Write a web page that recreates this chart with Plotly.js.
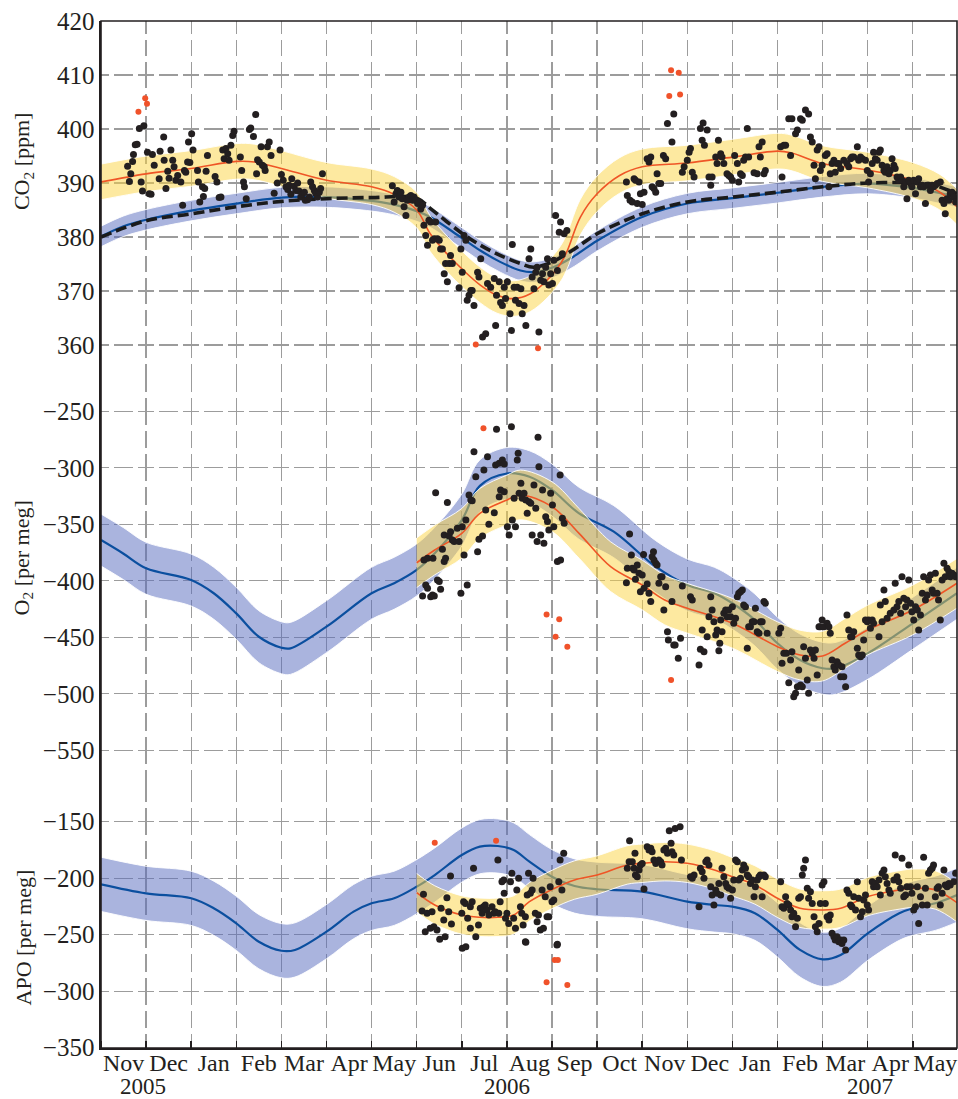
<!DOCTYPE html>
<html><head><meta charset="utf-8">
<script src="https://cdn.plot.ly/plotly-3.0.1.min.js"></script>
<style>html,body{margin:0;padding:0;background:#fff}#chart{width:958px;height:1099px}</style>
</head><body><div id="chart"></div>
<script>
// x unit: months since 1 Nov 2005 (each month an equal step, as in the source)
const monthLabels = ['Nov','Dec','Jan','Feb','Mar','Apr','May','Jun','Jul','Aug','Sep','Oct','Nov','Dec','Jan','Feb','Mar','Apr','May'];
const yearLabels = ['2005','2006','2007'];
const yearAt = [0.94, 9.0, 17.05];

// ---------- CO2 panel ----------
const co2BlueM = [0,0.5,1,2,3,4,5,6,6.5,7,7.3,7.97,8.41,8.85,9.3,9.59,10,10.5,11,12,13,14,15,16,17,18,18.5,18.98];
const co2BlueV = [380.1,382.0,383.2,384.9,386.2,387.3,387.4,386.7,386.0,384.8,383.7,380.0,377.5,375.4,373.8,373.5,374.3,376.5,379.3,383.7,386.2,387.2,388.2,389.3,389.9,389.1,388.3,387.4];
const co2BlueHW = 1.9;
const co2DashM = [0,1,2,3,4,5,6,7,7.3,7.97,8.41,8.85,9.3,9.59,10,10.5,11,12,13,14,15,16,17,18,18.5,18.98];
const co2DashV = [380.0,383.0,384.3,385.6,386.6,387.1,387.3,387.2,385.3,380.9,378.5,376.6,375.1,374.4,375.4,377.8,380.6,384.3,386.5,387.4,388.3,389.3,390.0,390.0,389.5,388.0];
const co2RedM = [0,1,2,3,3.4,4,5,6,6.5,7,7.3,7.67,8.04,8.41,8.78,9.15,9.52,9.89,10.2,10.34,10.63,11,11.5,12,13,14,15,15.3,16,17,18,18.6,18.98];
const co2RedV = [390.2,391.7,392.7,394.0,393.9,392.7,390.5,389.3,387.9,385.0,380.6,376.9,373.8,371.1,369.2,368.6,369.5,372.0,375.2,377.5,383.7,388.0,391.4,393.0,393.7,394.8,395.9,395.6,393.6,392.4,390.5,388.3,385.6];
const co2RedHW = 3.3;
const co2Points = [
[0.59,393.1],[0.63,390.3],[0.66,391.7],[0.70,394.0],[0.72,395.3],[0.76,397.1],[0.80,397.2],[0.85,400.1],[0.95,400.6],[0.89,390.2],[0.92,388.5],[1.03,395.7],[1.07,388.0],[1.11,387.9],[1.14,395.3],[1.18,393.3],[1.29,390.8],[1.31,395.9],[1.39,398.5],[1.40,394.2],[1.44,389.0],[1.48,392.2],[1.51,390.9],[1.55,396.1],[1.59,394.2],[1.62,393.0],[1.66,390.5],[1.70,391.4],[1.77,390.2],[1.81,385.9],[1.85,392.3],[1.88,392.0],[1.92,393.9],[1.94,397.6],[1.97,393.8],[2.01,399.1],[2.04,396.1],[2.14,392.3],[2.16,390.2],[2.19,386.5],[2.25,389.3],[2.27,387.5],[2.30,389.0],[2.33,392.2],[2.36,395.1],[2.53,391.2],[2.57,390.2],[2.62,387.3],[2.66,387.4],[2.70,396.1],[2.73,394.5],[2.77,396.4],[2.81,395.4],[2.84,394.2],[2.88,397.0],[2.92,398.8],[2.95,399.6],[3.09,394.8],[3.12,392.3],[3.16,390.2],[3.18,389.3],[3.22,387.1],[3.29,399.9],[3.32,400.2],[3.38,398.6],[3.43,402.7],[3.45,391.7],[3.47,394.3],[3.51,393.9],[3.55,396.7],[3.58,393.3],[3.62,393.0],[3.64,392.3],[3.69,396.7],[3.73,397.6],[3.77,395.1],[3.84,388.1],[3.91,390.0],[3.97,396.1],[4.00,391.6],[4.04,390.5],[4.10,389.3],[4.14,388.8],[4.17,389.6],[4.21,387.9],[4.23,390.8],[4.28,389.4],[4.32,388.6],[4.36,390.0],[4.39,388.5],[4.43,387.4],[4.47,388.0],[4.51,388.3],[4.53,386.8],[4.58,386.9],[4.62,387.4],[4.65,390.2],[4.69,389.3],[4.73,388.6],[4.76,388.1],[4.80,387.4],[4.84,388.3],[4.87,389.0],[4.91,391.7],
[6.46,389.5],[6.50,386.5],[6.54,388.0],[6.57,388.6],[6.61,387.4],[6.65,388.3],[6.68,387.1],[6.72,385.6],[6.76,384.0],[6.79,386.8],[6.83,387.4],[6.87,387.7],[6.91,386.8],[6.94,387.4],[6.98,386.8],[7.02,386.2],[7.05,386.5],[7.09,385.2],[7.13,385.9],[7.16,382.2],[7.20,380.3],[7.24,378.5],[7.27,383.1],[7.31,382.8],[7.35,379.4],[7.39,379.7],[7.42,382.8],[7.46,379.7],[7.50,379.4],[7.53,377.8],[7.57,377.8],[7.61,373.2],[7.64,375.1],[7.68,371.7],[7.72,375.1],[7.75,376.6],[7.79,375.1],[7.94,370.6],[7.98,377.8],[8.01,373.5],[8.05,380.3],[8.09,379.4],[8.12,368.3],[8.16,369.2],[8.20,370.1],[8.23,370.1],[8.27,367.3],[8.35,373.5],[8.38,372.6],[8.42,376.0],
[8.46,361.5],[8.53,362.1],[8.57,371.4],[8.64,370.7],[8.72,372.3],[8.75,363.6],[8.77,369.2],[8.83,371.7],[8.86,367.9],[8.90,367.3],[8.94,370.7],[8.97,368.6],[9.01,371.7],[9.07,365.8],[9.10,362.7],[9.12,378.6],[9.16,370.7],[9.19,368.3],[9.23,370.7],[9.27,367.7],[9.31,370.4],[9.34,365.8],[9.38,367.3],[9.42,363.6],[9.49,376.0],[9.53,377.8],[9.56,372.6],[9.60,370.4],[9.64,373.5],[9.67,374.4],[9.71,362.4],[9.75,372.0],[9.79,373.2],[9.82,371.7],[9.86,374.4],[9.90,376.0],[9.93,371.1],[9.97,373.2],[10.01,371.4],[10.04,375.7],[10.08,384.0],[10.12,373.8],[10.16,380.9],[10.19,382.8],[10.23,376.9],[10.27,380.6],[10.33,381.2],
[11.65,390.2],[11.67,387.7],[11.73,386.8],[11.78,386.5],[11.82,390.8],[11.85,390.5],[11.89,386.2],[11.93,390.2],[11.96,388.0],[12.00,386.0],[12.04,388.3],[12.11,394.5],[12.15,393.9],[12.19,394.8],[12.22,389.3],[12.26,389.0],[12.30,388.3],[12.33,391.7],[12.37,389.9],[12.41,389.9],[12.47,395.1],[12.52,394.5],[12.56,401.0],[12.66,397.6],[12.70,402.8],[12.89,392.0],[12.93,393.0],[13.00,394.2],[13.04,395.7],[13.07,396.4],[13.11,392.0],[13.15,391.1],[13.29,400.1],[13.33,397.9],[13.35,401.1],[13.38,397.0],[13.44,399.8],[13.48,391.1],[13.52,389.6],[13.55,391.1],[13.63,394.8],[13.66,393.6],[13.69,397.9],[13.74,395.4],[13.77,394.8],[13.81,393.6],[13.88,391.7],[13.92,391.4],[13.96,391.1],[14.00,390.5],[14.05,395.1],[14.11,393.6],[14.14,390.2],[14.18,391.7],[14.22,391.4],[14.25,394.2],[14.29,394.8],[14.33,400.1],[14.36,394.8],[14.48,391.9],[14.55,391.7],[14.59,396.7],[14.62,394.8],[14.66,397.6],[14.70,391.7],[14.73,392.3],
[15.07,396.7],[15.10,391.1],[15.14,397.0],[15.18,397.0],[15.25,401.9],[15.32,401.9],[15.29,395.1],[15.40,399.1],[15.44,399.8],[15.51,401.9],[15.55,401.6],[15.62,403.5],[15.69,402.8],[15.73,398.5],[15.77,397.6],[15.81,393.3],[15.84,390.8],[15.88,396.1],[15.92,396.7],[15.95,392.3],[15.99,393.3],[16.06,395.1],[16.10,395.4],[16.14,389.3],[16.17,391.7],[16.21,393.6],[16.25,394.2],[16.28,392.0],[16.32,393.6],[16.36,393.6],[16.40,392.7],[16.47,394.2],[16.54,393.6],[16.58,393.0],[16.62,394.5],[16.65,394.8],[16.69,394.8],[16.77,396.7],[16.80,394.2],[16.84,394.8],[16.88,394.5],[16.95,394.2],[16.99,392.3],[17.02,390.2],[17.06,391.7],[17.10,393.6],[17.13,395.7],[17.17,394.5],[17.21,394.2],[17.25,395.7],[17.28,396.1],[17.32,393.3],[17.36,392.3],[17.39,392.0],[17.43,393.0],[17.47,391.7],[17.50,392.3],[17.54,394.5],[17.58,393.3],[17.61,392.7],[17.65,391.1],[17.69,390.5],[17.73,391.1],[17.76,390.5],[17.80,389.3],[17.84,390.2],[17.87,387.1],[17.91,390.5],[17.95,389.9],[17.98,389.3],[18.02,390.5],[18.06,388.0],[18.10,390.2],[18.13,390.8],[18.17,389.3],[18.21,389.6],[18.24,389.3],[18.28,386.2],[18.32,389.6],[18.35,389.6],[18.39,388.6],[18.43,389.6],[18.46,389.3],[18.50,389.6],[18.54,389.9],[18.61,390.2],[18.65,386.8],[18.69,386.2],[18.72,384.3],[18.76,387.1],[18.80,386.8],[18.83,388.0],[18.87,388.3],[18.91,387.4],[18.95,386.5]
];
const co2Outliers = [[0.83,403.2],[0.98,405.7],[1.02,404.7],[8.31,360.1],[9.69,359.4],[12.64,410.9],[12.81,410.4],[12.60,406.1],[12.84,406.4]];

// ---------- O2 panel ----------
const o2BlueM = [0,0.5,1,2,2.5,3,3.5,4,4.2,5,6,6.5,7,7.4,8,8.4,9,9.5,10,10.6,11.37,12.3,13,13.6,14,14.5,15,15.5,16,16.3,17,18,18.98];
const o2BlueV = [-363.9,-376,-388.9,-399.3,-411,-428.8,-449.5,-459.2,-459.8,-440.6,-411,-402.2,-390.4,-375.7,-346.2,-316,-305,-307.9,-319.6,-340.3,-356.5,-387.5,-403.7,-411,-419.9,-434.7,-455.3,-470.1,-477.4,-477.4,-464.2,-437.6,-411];
const o2BlueHW = 23;
const o2RedM = [7,7.4,8,8.4,9,9.3,10,10.6,11.3,12,12.5,13,14,15,15.5,16,16.5,17,18,18.98];
const o2RedV = [-384,-372.7,-358,-340.3,-328.5,-324,-334.4,-358,-387.5,-403.7,-417,-424.3,-437.6,-458.3,-465.7,-466.6,-455.3,-443.5,-425.8,-402.2];
const o2RedHW = 22;
const o2Points = [
[7.13,-413.4],[7.16,-381.6],[7.20,-403.7],[7.24,-406.6],[7.24,-380.1],[7.31,-414.0],[7.35,-412.5],[7.36,-380.1],[7.39,-413.4],[7.42,-322.0],[7.46,-399.3],[7.50,-400.7],[7.53,-407.5],[7.57,-372.1],[7.61,-359.5],[7.61,-383.0],[7.64,-380.1],[7.68,-330.8],[7.72,-360.3],[7.75,-356.5],[7.79,-363.9],[7.83,-365.3],[7.90,-353.5],[7.94,-365.3],[7.98,-411.1],[8.01,-352.1],[8.05,-377.1],[8.09,-346.2],[8.12,-403.7],[8.16,-324.0],[8.20,-328.5],[8.23,-329.1],[8.27,-285.7],[8.31,-307.8],[8.35,-374.2],[8.38,-363.3],
[8.77,-265.9],[9.10,-263.6],[9.69,-273.0],[8.49,-301.9],[8.57,-290.1],[8.75,-297.5],[8.83,-296.0],[8.90,-293.1],[8.94,-296.6],[9.23,-293.1],[9.25,-287.2],[9.71,-299.0],[10.18,-306.3],[8.53,-337.3],[8.72,-339.7],[8.60,-350.0],[8.46,-360.3],[8.83,-325.5],[8.86,-319.6],[8.94,-321.1],[9.01,-352.1],[9.05,-359.5],[9.12,-346.2],[9.16,-327.0],[9.19,-352.1],[9.27,-322.6],[9.31,-313.7],[9.34,-327.0],[9.38,-322.6],[9.42,-328.5],[9.45,-340.3],[9.49,-330.0],[9.53,-331.4],[9.56,-359.5],[9.60,-315.2],[9.64,-335.8],[9.67,-365.3],[9.75,-359.5],[9.79,-319.6],[9.82,-366.8],[9.86,-343.2],[9.90,-347.6],[9.93,-355.0],[9.97,-322.6],[10.01,-332.9],[10.04,-352.1],[10.12,-383.0],[10.19,-381.6],[10.23,-344.7],[10.27,-349.1],
[11.72,-358.6],[11.67,-388.9],[11.65,-401.6],[11.76,-377.1],[11.78,-388.9],[11.82,-390.4],[11.85,-398.7],[11.89,-386.0],[11.93,-393.4],[11.96,-409.6],[12.00,-394.8],[12.04,-406.6],[12.03,-376.6],[12.11,-402.8],[12.15,-411.1],[12.19,-418.4],[12.22,-378.6],[12.25,-374.2],[12.26,-381.6],[12.30,-384.5],[12.33,-386.0],[12.37,-402.2],[12.41,-396.3],[12.44,-396.3],[12.48,-425.8],[12.52,-405.2],[12.56,-445.0],[12.58,-452.4],[12.66,-418.4],[12.70,-456.8],[12.73,-456.8],[12.80,-468.6],[12.85,-450.9],[12.89,-404.6],[13.07,-414.0],[13.11,-417.0],[13.26,-474.5],[13.29,-460.6],[13.33,-443.5],[13.37,-462.7],[13.44,-449.4],[13.48,-431.7],[13.52,-414.0],[13.55,-425.8],[13.59,-436.2],[13.63,-447.9],[13.66,-443.5],[13.70,-461.8],[13.72,-455.3],[13.74,-434.7],[13.77,-445.0],[13.81,-428.8],[13.85,-425.8],[13.88,-431.7],[13.92,-425.8],[13.96,-431.7],[14.00,-422.9],[14.03,-437.6],[14.07,-433.2],[14.11,-414.0],[14.14,-411.1],[14.18,-409.6],[14.22,-408.1],[14.25,-421.4],[14.29,-422.9],[14.33,-459.7],[14.36,-440.6],[14.40,-440.6],[14.44,-436.2],[14.48,-436.2],[14.51,-424.3],[14.55,-445.0],[14.59,-446.5],[14.62,-436.2],[14.66,-436.2],[14.70,-418.4],[14.73,-419.9],[14.77,-446.5],
[15.03,-446.5],[15.07,-442.0],[15.10,-473.0],[15.14,-464.2],[15.20,-464.2],[15.25,-490.1],[15.29,-470.1],[15.32,-462.7],[15.36,-502.5],[15.40,-499.6],[15.44,-493.7],[15.47,-478.9],[15.51,-492.2],[15.55,-493.7],[15.58,-458.3],[15.62,-468.6],[15.66,-487.8],[15.69,-499.6],[15.73,-461.2],[15.77,-464.2],[15.81,-468.6],[15.84,-461.2],[15.88,-483.3],[15.92,-440.6],[15.95,-440.6],[15.99,-434.7],[16.03,-440.6],[16.10,-437.6],[16.14,-440.6],[16.17,-446.5],[16.21,-470.1],[16.25,-476.0],[16.28,-478.9],[16.32,-471.6],[16.36,-474.5],[16.40,-484.8],[16.43,-476.0],[16.47,-484.8],[16.51,-493.7],[16.54,-430.2],[16.58,-443.5],[16.62,-449.4],[16.65,-449.4],[16.69,-445.0],[16.77,-459.7],[16.80,-465.6],[16.84,-467.1],[16.88,-465.6],[16.91,-452.4],[16.95,-434.7],[16.99,-436.2],[17.02,-434.7],[17.06,-442.0],[17.10,-434.7],[17.13,-437.6],[17.25,-449.4],[17.28,-421.4],[17.32,-436.2],[17.36,-408.1],[17.39,-418.4],[17.43,-433.2],[17.50,-428.8],[17.58,-425.8],[17.61,-402.2],[17.65,-422.9],[17.69,-418.4],[17.73,-428.8],[17.76,-396.3],[17.80,-415.5],[17.84,-422.9],[17.87,-417.0],[17.91,-399.3],[17.95,-419.9],[17.98,-427.3],[18.02,-434.7],[18.06,-422.9],[18.10,-425.8],[18.13,-443.5],[18.17,-430.2],[18.21,-411.1],[18.24,-396.3],[18.28,-417.0],[18.32,-412.5],[18.35,-399.3],[18.39,-394.8],[18.43,-408.1],[18.46,-411.1],[18.50,-393.4],[18.54,-411.1],[18.57,-417.0],[18.61,-434.7],[18.65,-399.3],[18.69,-384.5],[18.72,-396.3],[18.76,-388.9],[18.80,-391.9],[18.83,-396.3],[18.87,-393.4],[18.91,-394.8],[18.95,-396.3]
];
const o2Outliers = [[8.48,-265.0],[9.88,-429.7],[10.16,-434.1],[10.08,-449.4],[10.34,-458.3],[12.64,-487.8]];

// ---------- APO panel ----------
const apoBlueM = [0,1,2,2.5,3,3.5,4,4.3,5,5.6,6,6.5,7,7.4,8,8.4,8.8,9.15,9.5,10,10.5,11,12,13,13.6,14,14.5,15,15.5,16,16.4,17,17.7,18,18.5,18.98];
const apoBlueV = [-205.4,-213.4,-217.8,-226.6,-239.9,-256.2,-264.2,-263.5,-247.3,-229.6,-222.2,-217.8,-207.5,-197.2,-179.5,-172.1,-171.5,-175,-185.4,-198.7,-206.9,-209.8,-211.9,-220.8,-223.7,-225.2,-231,-245.8,-263.5,-271.8,-268,-248.8,-231,-226.6,-222.2,-214.9];
const apoBlueHW = 24;
const apoRedM = [7,7.4,8,8.4,8.8,9.15,9.5,10,10.5,11,11.67,12,12.5,13,13.6,14,14.5,15,15.5,16,16.4,17,17.7,18,18.5,18.98];
const apoRedV = [-212.8,-223.7,-232.6,-234.6,-234.6,-232.6,-220.8,-210,-201.6,-197.2,-188.3,-186.8,-185.4,-186.8,-192.7,-198.7,-206,-217.8,-226.6,-228.1,-226.6,-216.3,-210.4,-208.9,-210.4,-221.7];
const apoRedHW = 17;
const apoPoints = [
[7.15,-214.3],[7.12,-229.0],[7.23,-231.1],[7.34,-229.6],[7.19,-247.3],[7.30,-244.4],[7.38,-242.9],[7.45,-245.9],[7.51,-254.1],[7.63,-251.8],[7.54,-226.7],[7.67,-217.2],[7.60,-237.0],[7.71,-229.6],[7.77,-240.5],[7.75,-198.1],[8.00,-231.1],[8.04,-220.8],[8.08,-222.3],[8.13,-235.5],[8.19,-225.2],[8.23,-220.8],[8.19,-244.4],[8.26,-191.3],[8.31,-251.8],[8.37,-241.4],[8.41,-226.7],[8.45,-231.1],[8.48,-225.2],[8.52,-223.7],[8.56,-228.2],[8.60,-232.6],[8.67,-225.2],[8.71,-231.1],[8.74,-229.6],[8.80,-183.9],[8.82,-231.1],[8.85,-220.8],[8.89,-203.1],[8.93,-201.6],[8.94,-213.4],[8.97,-235.5],[9.00,-231.1],[9.04,-240.0],[9.08,-203.1],[9.11,-195.7],[9.15,-235.5],[9.19,-244.4],[9.22,-210.5],[9.26,-200.1],[9.30,-225.2],[9.33,-231.1],[9.36,-241.4],[9.41,-234.1],[9.41,-256.2],[9.45,-214.9],[9.48,-195.7],[9.52,-213.4],[9.56,-210.5],[9.58,-200.1],[9.63,-231.1],[9.67,-238.5],[9.70,-232.6],[9.74,-245.9],[9.78,-210.5],[9.81,-244.4],[9.85,-216.4],[9.89,-234.1],[9.93,-234.1],[9.96,-207.5],[10.00,-220.8],[10.04,-219.3],[10.11,-259.1],[10.15,-203.1],[10.18,-183.9],[10.22,-210.5],[10.26,-178.0],[8.01,-262.1],[8.09,-260.6],[9.42,-256.8],[10.12,-258.5],
[11.72,-166.8],[11.67,-191.3],[11.71,-185.4],[11.78,-185.4],[11.82,-191.3],[11.84,-178.0],[11.85,-197.2],[11.89,-198.7],[11.93,-192.7],[11.96,-188.3],[12.00,-186.9],[12.04,-209.6],[12.11,-172.1],[12.15,-175.1],[12.19,-173.6],[12.22,-176.5],[12.26,-183.9],[12.30,-186.9],[12.37,-183.9],[12.41,-185.4],[12.44,-188.3],[12.48,-175.1],[12.52,-173.6],[12.56,-178.0],[12.60,-157.9],[12.64,-169.1],[12.66,-176.5],[12.70,-179.5],[12.73,-155.9],[12.84,-154.4],[12.87,-183.9],[13.07,-198.7],[13.11,-200.1],[13.15,-197.2],[13.26,-225.2],[13.29,-191.3],[13.33,-194.2],[13.37,-200.1],[13.41,-185.4],[13.44,-183.9],[13.48,-188.3],[13.52,-207.5],[13.55,-214.9],[13.59,-223.7],[13.63,-210.5],[13.66,-213.4],[13.70,-204.6],[13.74,-214.9],[13.77,-191.3],[13.81,-198.7],[13.85,-204.6],[13.88,-207.5],[13.92,-209.0],[13.96,-217.8],[14.00,-210.5],[14.03,-201.6],[14.07,-183.9],[14.11,-185.4],[14.14,-201.6],[14.18,-200.1],[14.22,-192.7],[14.25,-188.3],[14.29,-191.3],[14.33,-197.2],[14.36,-198.7],[14.40,-204.6],[14.44,-201.6],[14.48,-216.4],[14.51,-207.5],[14.55,-201.6],[14.59,-198.7],[14.62,-197.2],[14.66,-216.4],[14.70,-197.2],[14.73,-198.7],
[15.07,-203.1],[15.10,-225.2],[15.14,-226.7],[15.18,-216.4],[15.21,-222.3],[15.25,-223.7],[15.29,-228.2],[15.32,-234.1],[15.36,-231.1],[15.40,-242.9],[15.44,-235.5],[15.47,-217.8],[15.51,-216.4],[15.55,-197.2],[15.58,-191.3],[15.62,-183.9],[15.66,-209.0],[15.69,-217.8],[15.73,-211.9],[15.77,-222.3],[15.81,-234.1],[15.84,-242.9],[15.88,-247.3],[15.92,-240.0],[15.95,-222.3],[15.99,-206.0],[16.03,-203.1],[16.06,-222.3],[16.10,-234.1],[16.14,-237.0],[16.17,-232.6],[16.21,-248.8],[16.25,-251.8],[16.28,-254.7],[16.32,-251.8],[16.36,-256.2],[16.40,-254.7],[16.43,-257.7],[16.47,-254.7],[16.51,-263.6],[16.54,-210.5],[16.58,-213.4],[16.62,-223.7],[16.65,-225.2],[16.69,-216.4],[16.73,-228.2],[16.77,-203.1],[16.80,-217.8],[16.84,-234.1],[16.88,-229.6],[16.91,-219.3],[16.95,-214.9],[16.99,-223.7],[17.02,-228.2],[17.10,-203.1],[17.13,-207.5],[17.17,-204.6],[17.21,-207.5],[17.25,-201.6],[17.28,-214.9],[17.32,-195.7],[17.36,-192.7],[17.39,-198.7],[17.43,-204.6],[17.47,-210.5],[17.50,-213.4],[17.58,-201.6],[17.61,-179.5],[17.65,-198.7],[17.69,-203.1],[17.73,-209.0],[17.76,-182.4],[17.80,-216.4],[17.84,-214.9],[17.87,-207.5],[17.91,-188.3],[17.95,-207.5],[17.98,-213.4],[18.02,-228.2],[18.06,-225.2],[18.10,-207.5],[18.13,-240.0],[18.17,-216.4],[18.21,-223.7],[18.24,-181.5],[18.28,-209.0],[18.32,-223.7],[18.35,-195.7],[18.39,-192.7],[18.43,-191.3],[18.46,-188.3],[18.50,-216.4],[18.54,-209.0],[18.57,-207.5],[18.61,-223.7],[18.65,-213.4],[18.69,-192.7],[18.72,-206.0],[18.76,-207.5],[18.80,-204.6],[18.83,-206.0],[18.91,-203.1],[18.95,-195.7]
];
const apoOutliers = [[7.40,-168.6],[8.76,-166.8],[9.88,-292.2],[10.06,-272.4],[10.13,-272.4],[10.34,-294.5]];

// ---------- styling ----------
const C = {
  blueBand: 'rgba(85,105,190,0.5)', blueLine: '#0b4f9f',
  yellowBand: 'rgba(251,211,65,0.5)', redLine: '#ef5526',
  dot: '#231f20', outlier: '#f0522a', grid: '#9c9c9c', ink: '#231f20'
};
const FONT = '"Liberation Serif", "Times New Roman", serif';

function band(xa, ya, m, v, hw, fill) {
  const common = {type:'scatter', mode:'lines', x:m, xaxis:xa, yaxis:ya, hoverinfo:'skip', showlegend:false,
                  line:{color:'rgba(255,255,255,0.9)', width:1, shape:'spline'}};
  return [
    Object.assign({}, common, {y: v.map(d => d - hw)}),
    Object.assign({}, common, {y: v.map(d => d + hw), fill:'tonexty', fillcolor: fill})
  ];
}
function line(xa, ya, m, v, color, width, dash) {
  return {type:'scatter', mode:'lines', x:m, y:v, xaxis:xa, yaxis:ya, hoverinfo:'skip', showlegend:false,
          line:{color:color, width:width, shape:'spline', dash: dash || 'solid'}};
}
function dots(xa, ya, pts, color, size) {
  return {type:'scatter', mode:'markers', x:pts.map(p => p[0]), y:pts.map(p => p[1]), xaxis:xa, yaxis:ya,
          hoverinfo:'skip', showlegend:false, marker:{color:color, size:size, line:{width:0}}};
}

const traces = [].concat(
  // CO2 (top, x3/y3)
  band('x3','y3', co2BlueM, co2BlueV, co2BlueHW, C.blueBand),
  [line('x3','y3', co2BlueM, co2BlueV, C.blueLine, 2.2)],
  band('x3','y3', co2RedM, co2RedV, co2RedHW, C.yellowBand),
  [line('x3','y3', co2RedM, co2RedV, C.redLine, 1.6)],
  [line('x3','y3', co2DashM, co2DashV, '#1b1b1b', 3.6, '11px,5px')],
  [dots('x3','y3', co2Points, C.dot, 7)],
  [dots('x3','y3', co2Outliers, C.outlier, 6)],
  // O2 (middle, x2/y2)
  band('x2','y2', o2BlueM, o2BlueV, o2BlueHW, C.blueBand),
  [line('x2','y2', o2BlueM, o2BlueV, C.blueLine, 2.2)],
  band('x2','y2', o2RedM, o2RedV, o2RedHW, C.yellowBand),
  [line('x2','y2', o2RedM, o2RedV, C.redLine, 1.6)],
  [dots('x2','y2', o2Points, C.dot, 7)],
  [dots('x2','y2', o2Outliers, C.outlier, 6)],
  // APO (bottom, x/y)
  band('x','y', apoBlueM, apoBlueV, apoBlueHW, C.blueBand),
  [line('x','y', apoBlueM, apoBlueV, C.blueLine, 2.2)],
  band('x','y', apoRedM, apoRedV, apoRedHW, C.yellowBand),
  [line('x','y', apoRedM, apoRedV, C.redLine, 1.6)],
  [dots('x','y', apoPoints, C.dot, 7)],
  [dots('x','y', apoOutliers, C.outlier, 6)]
);

const XR = [0, 18.98];
const hDash = '8px,5px,19.1px,5px,8px,0px';
function xAxis(anchor, vDash, labels) {
  return {
    anchor: anchor, domain:[0,1], range: XR, fixedrange:true, zeroline:false,
    tickmode:'array', tickvals: monthLabels.map((_, i) => i + 0.5), ticktext: monthLabels,
    showticklabels: labels, ticks:'', showgrid:false, ticklabelstandoff: -7, ticklabeloverflow:'allow',
    showline: labels, linecolor: C.ink, linewidth: 1.6,
    tickfont:{family:FONT, size:24, color:C.ink},
    minor:{tickmode:'linear', tick0:0, dtick:1, showgrid:true, gridcolor:C.grid, gridwidth:1.3, griddash:vDash,
           ticks: labels ? 'inside' : '', ticklen:7, tickwidth:1.5, tickcolor:C.ink}
  };
}
function yAxis(domain, range, tick0, dtick) {
  return {
    domain: domain, range: range, fixedrange:true, zeroline:false,
    tickmode:'linear', tick0: tick0, dtick: dtick, ticks:'',
    showgrid:true, gridcolor:C.grid, gridwidth:1.3, griddash:hDash,
    showline:true, linecolor:C.ink, linewidth:1.6,
    tickfont:{family:FONT, size:25, color:C.ink}
  };
}

const annotations = [
  {xref:'paper', yref:'paper', x:-0.091, y:0.8637, text:'CO<sub>2</sub> [ppm]', textangle:-90, showarrow:false,
   font:{family:FONT, size:22, color:C.ink}, xanchor:'center', yanchor:'middle'},
  {xref:'paper', yref:'paper', x:-0.091, y:0.4768, text:'O<sub>2</sub> [per meg]', textangle:-90, showarrow:false,
   font:{family:FONT, size:22, color:C.ink}, xanchor:'center', yanchor:'middle'},
  {xref:'paper', yref:'paper', x:-0.091, y:0.1078, text:'APO [per meg]', textangle:-90, showarrow:false,
   font:{family:FONT, size:22, color:C.ink}, xanchor:'center', yanchor:'middle'}
].concat(yearLabels.map((t, i) => ({
  xref:'x', yref:'paper', x: yearAt[i], y:0, yshift:-24, yanchor:'top', xanchor:'center',
  text:t, showarrow:false, font:{family:FONT, size:23, color:C.ink}
})));

const layout = {
  width:958, height:1099, margin:{l:101, r:1, t:21, b:51},
  paper_bgcolor:'#ffffff', plot_bgcolor:'rgba(0,0,0,0)', showlegend:false,
  font:{family:FONT, size:22, color:C.ink},
  xaxis:  xAxis('y',  '16.2px,6px,27px,6px,1.3px,0px', true),
  xaxis2: xAxis('y2', '13.8px,6px,27px,6px,3.7px,0px', false),
  xaxis3: xAxis('y3', '13px,6px,16px,6px,13px,0px', false),
  yaxis:  yAxis([0, 0.2551], [-350.3, -118.4], -350, 50),
  yaxis2: yAxis([0.2551, 0.6524], [-581.6, -220.5], -550, 50),
  yaxis3: yAxis([0.6524, 1], [353.9, 420], 360, 10),
  annotations: annotations,
  shapes:[{type:'rect', xref:'paper', yref:'paper', x0:0, x1:1, y0:0, y1:1, line:{color:C.ink, width:1.6}, layer:'above'}]
};

Plotly.newPlot('chart', traces, layout, {displayModeBar:false, staticPlot:true});
</script>
</body></html>
